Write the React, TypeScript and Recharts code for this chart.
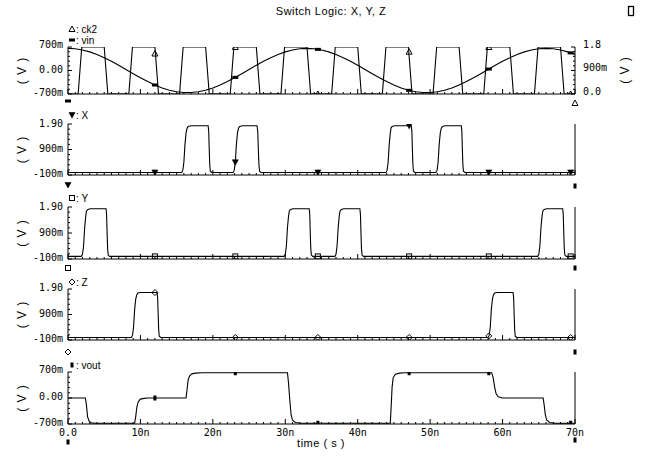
import React from 'react';
import { ComposedChart, Line, Scatter, XAxis, YAxis, ReferenceLine } from 'recharts';

const W = 646;
const H = 456;
const PLOT_LEFT = 68;
const PLOT_RIGHT = 575;
const NUM_FONT = '"DejaVu Sans Mono", monospace';
const TXT_FONT = '"Liberation Sans", Arial, sans-serif';

// ---------- data (time in ns, values in V) ----------
const timeTicks = Array.from({ length: 71 }, (_, i) => i);
const timeLabelValues = [0, 10, 20, 30, 40, 50, 60, 70];
const timeLabels = ['0.0', '10n', '20n', '30n', '40n', '50n', '60n', '70n'];

const markerTimes = [12.0, 23.1, 34.5, 47.1, 58.1, 69.4];

const ck2Points = [
  [0, 0], [1.4, 0], [1.9, 1.8], [5.0, 1.8], [5.5, 0],
  [8.4, 0], [8.9, 1.8], [12.0, 1.8], [12.5, 0],
  [15.4, 0], [15.9, 1.8], [19.0, 1.8], [19.5, 0],
  [22.4, 0], [22.9, 1.8], [26.0, 1.8], [26.5, 0],
  [29.4, 0], [29.9, 1.8], [33.0, 1.8], [33.5, 0],
  [36.4, 0], [36.9, 1.8], [40.0, 1.8], [40.5, 0],
  [43.4, 0], [43.9, 1.8], [47.0, 1.8], [47.5, 0],
  [50.4, 0], [50.9, 1.8], [54.0, 1.8], [54.5, 0],
  [57.4, 0], [57.9, 1.8], [61.0, 1.8], [61.5, 0],
  [64.4, 0], [64.9, 1.8], [68.0, 1.8], [68.5, 0], [70, 0],
];

// vin sampled every 1 ns from 0 to 70 ns
const vinValues = [
  0.660, 0.648, 0.613, 0.555, 0.478, 0.383, 0.274, 0.156, 0.031, -0.094,
  -0.216, -0.330, -0.432, -0.519, -0.587, -0.633, -0.657, -0.657, -0.633, -0.587,
  -0.519, -0.432, -0.330, -0.216, -0.094, 0.031, 0.156, 0.274, 0.383, 0.478,
  0.555, 0.613, 0.648, 0.660, 0.648, 0.613, 0.555, 0.478, 0.383, 0.274,
  0.156, 0.031, -0.094, -0.216, -0.330, -0.432, -0.519, -0.587, -0.633, -0.657,
  -0.657, -0.633, -0.587, -0.519, -0.432, -0.330, -0.216, -0.094, 0.031, 0.156,
  0.274, 0.383, 0.478, 0.555, 0.613, 0.648, 0.660, 0.648, 0.613, 0.555, 0.478,
];

const xPoints = [
  [0, 0],
  [15.7, 0], [15.85, 0.08], [16.0, 0.4], [16.15, 1.1], [16.3, 1.55], [16.45, 1.74], [16.6, 1.8], [17.0, 1.83],
  [19.35, 1.83], [19.43, 1.6], [19.5, 0.9], [19.57, 0.3], [19.65, 0.05], [19.85, 0],
  [22.8, 0], [22.95, 0.08], [23.1, 0.4], [23.25, 1.1], [23.4, 1.55], [23.55, 1.74], [23.7, 1.8], [24.1, 1.83],
  [26.1, 1.83], [26.2, 1.6], [26.28, 0.9], [26.36, 0.3], [26.45, 0.05], [26.65, 0],
  [43.9, 0], [44.05, 0.08], [44.2, 0.4], [44.35, 1.1], [44.5, 1.55], [44.6, 1.74], [44.75, 1.8], [45.1, 1.83],
  [47.4, 1.83], [47.48, 1.6], [47.55, 0.9], [47.62, 0.3], [47.7, 0.05], [47.9, 0],
  [50.8, 0], [50.95, 0.08], [51.1, 0.4], [51.25, 1.1], [51.4, 1.55], [51.55, 1.74], [51.7, 1.8], [52.05, 1.83],
  [54.3, 1.83], [54.38, 1.6], [54.45, 0.9], [54.52, 0.3], [54.6, 0.05], [54.8, 0],
  [70, 0],
];

const yPoints = [
  [0, 0],
  [1.85, 0], [2.0, 0.08], [2.15, 0.4], [2.3, 1.1], [2.45, 1.55], [2.55, 1.74], [2.7, 1.8], [3.05, 1.83],
  [5.25, 1.83], [5.33, 1.6], [5.4, 0.9], [5.47, 0.3], [5.55, 0.05], [5.75, 0],
  [29.85, 0], [30.0, 0.08], [30.15, 0.4], [30.3, 1.1], [30.45, 1.55], [30.55, 1.74], [30.7, 1.8], [31.05, 1.83],
  [33.3, 1.83], [33.38, 1.6], [33.45, 0.9], [33.52, 0.3], [33.6, 0.05], [33.8, 0],
  [36.85, 0], [37.0, 0.08], [37.15, 0.4], [37.3, 1.1], [37.45, 1.55], [37.55, 1.74], [37.7, 1.8], [38.05, 1.83],
  [40.3, 1.83], [40.38, 1.6], [40.45, 0.9], [40.52, 0.3], [40.6, 0.05], [40.8, 0],
  [64.85, 0], [65.0, 0.08], [65.15, 0.4], [65.3, 1.1], [65.45, 1.55], [65.55, 1.74], [65.7, 1.8], [66.05, 1.83],
  [68.3, 1.83], [68.38, 1.6], [68.45, 0.9], [68.52, 0.3], [68.6, 0.05], [68.8, 0],
  [70, 0],
];

const zPoints = [
  [0, 0],
  [8.75, 0], [8.9, 0.08], [9.05, 0.4], [9.2, 1.1], [9.35, 1.5], [9.5, 1.68], [9.65, 1.74], [10.0, 1.76],
  [12.3, 1.76], [12.38, 1.55], [12.45, 0.9], [12.52, 0.3], [12.6, 0.05], [12.8, 0],
  [58.0, 0], [58.15, 0.08], [58.3, 0.4], [58.45, 1.1], [58.6, 1.5], [58.75, 1.68], [58.9, 1.74], [59.25, 1.76],
  [61.45, 1.76], [61.53, 1.55], [61.6, 0.9], [61.67, 0.3], [61.75, 0.05], [61.95, 0],
  [70, 0],
];

const voutPoints = [
  [0, 0], [2.4, 0], [2.55, -0.2], [2.7, -0.5], [2.9, -0.62], [3.2, -0.67], [3.8, -0.68],
  [9.2, -0.68], [9.35, -0.5], [9.5, -0.25], [9.7, -0.1], [10.0, -0.03], [10.5, -0.01], [11, 0],
  [16.3, 0], [16.45, 0.25], [16.6, 0.5], [16.8, 0.6], [17.1, 0.65], [17.6, 0.67], [18.5, 0.68],
  [30.3, 0.68], [30.45, 0.4], [30.6, 0], [30.8, -0.45], [31.0, -0.6], [31.4, -0.66], [32.2, -0.68],
  [44.5, -0.68], [44.6, -0.3], [44.75, 0.3], [44.9, 0.55], [45.2, 0.64], [45.8, 0.67], [46.5, 0.68],
  [58.5, 0.68], [58.7, 0.55], [58.9, 0.3], [59.1, 0.12], [59.4, 0.03], [60.0, 0],
  [65.6, 0], [65.75, -0.2], [65.9, -0.45], [66.1, -0.6], [66.5, -0.66], [67.3, -0.68], [70, -0.68],
];

const ck2Marks = [1.55, 1.8, 0, 1.62, 1.8, 0];
const vinMarks = [-0.432, -0.204, 0.63, -0.59, 0.043, 0.525];
const xMarks = [0, 0.4, 0, 1.83, 0, 0];
const yMarks = [0, 0, 0, 0, 0, 0];
const zMarks = [1.76, 0, 0, 0, 0.06, 0];
const voutMarks = [0, 0.68, -0.68, 0.68, 0.68, -0.68];

const ampTicks = [-0.7, 0, 0.7];
const ampLabels = ['-700m', '0.00', '700m'];
const logicTicks = [-0.1, 0.9, 1.9];
const logicLabels = ['-100m', '900m', '1.90'];
const ck2AxisTicks = [0, 0.9, 1.8];
const ck2AxisLabels = ['0.0', '900m', '1.8'];

// ---------- helpers ----------
type Pt = { t: number; v: number };
const toPts = (arr: number[][]): Pt[] => arr.map(([t, v]) => ({ t, v }));
const marksOf = (vals: number[]): Pt[] => vals.map((v, i) => ({ t: markerTimes[i], v }));
const near = (a: number, b: number) => Math.abs(a - b) < 1e-6;
const minorTicks = (lo: number, hi: number, n: number) =>
  Array.from({ length: n + 1 }, (_, i) => lo + ((hi - lo) * i) / n);

function Glyph({ kind, cx, cy }: { kind: string; cx: number; cy: number }) {
  switch (kind) {
    case 'triUp':
      return <polygon points={`${cx},${cy - 3} ${cx - 3},${cy + 2.5} ${cx + 3},${cy + 2.5}`} fill="none" stroke="#000" strokeWidth={1} />;
    case 'triDown':
      return <polygon points={`${cx - 3},${cy - 2.5} ${cx + 3},${cy - 2.5} ${cx},${cy + 3}`} fill="#000" stroke="#000" strokeWidth={0.6} />;
    case 'sqFill':
      return <rect x={cx - 3} y={cy - 1.5} width={6} height={3} fill="#000" />;
    case 'sqOpen':
      return <rect x={cx - 2.5} y={cy - 2.5} width={5} height={5} fill="none" stroke="#000" strokeWidth={1} />;
    case 'diamond':
      return <polygon points={`${cx},${cy - 3} ${cx + 3},${cy} ${cx},${cy + 3} ${cx - 3},${cy}`} fill="none" stroke="#000" strokeWidth={1} />;
    case 'bar':
      return <rect x={cx - 1.5} y={cy - 2.5} width={3} height={5} fill="#000" />;
    default:
      return null;
  }
}

function makeYTick(axisX: number, side: 'L' | 'R', majors: number[], labels: string[], dys: number[]) {
  return (props: any) => {
    const { y, payload } = props;
    const v = payload.value;
    const idx = majors.findIndex((m) => near(m, v));
    const len = idx >= 0 ? 4 : 2;
    const dir = side === 'L' ? 1 : -1;
    return (
      <g>
        <line x1={axisX} x2={axisX + dir * len} y1={y} y2={y} stroke="#000" strokeWidth={1} />
        {idx >= 0 ? (
          <text
            x={side === 'L' ? axisX - 5 : axisX + 8}
            y={y + dys[idx]}
            dy="0.35em"
            textAnchor={side === 'L' ? 'end' : 'start'}
            fontFamily={NUM_FONT}
            fontSize={10}
            fill="#000"
          >
            {labels[idx]}
          </text>
        ) : null}
      </g>
    );
  };
}

function makeXTick(bottom: number, showLabels: boolean) {
  return (props: any) => {
    const { x, payload } = props;
    const v = payload.value;
    const li = timeLabelValues.findIndex((m) => near(m, v));
    const len = li >= 0 ? 5 : 2;
    return (
      <g>
        <line x1={x} x2={x} y1={bottom} y2={bottom - len} stroke="#000" strokeWidth={1} />
        {showLabels && li >= 0 ? (
          <text x={x} y={bottom + 8} dy="0.35em" textAnchor="middle" fontFamily={NUM_FONT} fontSize={10} fill="#000">
            {timeLabels[li]}
          </text>
        ) : null}
      </g>
    );
  };
}

type AxisCfg = { domain: [number, number]; majors: number[]; labels: string[]; dys: number[] };
type SeriesCfg = { key: string; data: Pt[]; marks: Pt[]; glyph: string; axis: 'L' | 'R' };
type PanelCfg = { top: number; bottom: number; left: AxisCfg; right?: AxisCfg; series: SeriesCfg[]; xLabels: boolean };

const panels: PanelCfg[] = [
  {
    top: 47, bottom: 94,
    left: { domain: [-0.7, 0.7], majors: ampTicks, labels: ampLabels, dys: [-2, -1, -3] },
    right: { domain: [0, 1.8], majors: ck2AxisTicks, labels: ck2AxisLabels, dys: [-3, -3, -3] },
    series: [
      { key: 'ck2', data: toPts(ck2Points), marks: marksOf(ck2Marks), glyph: 'triUp', axis: 'R' },
      { key: 'vin', data: vinValues.map((v, i) => ({ t: i, v })), marks: marksOf(vinMarks), glyph: 'sqFill', axis: 'L' },
    ],
    xLabels: false,
  },
  {
    top: 124, bottom: 175,
    left: { domain: [-0.1, 1.9], majors: logicTicks, labels: logicLabels, dys: [-2, -1, -1] },
    series: [{ key: 'X', data: toPts(xPoints), marks: marksOf(xMarks), glyph: 'triDown', axis: 'L' }],
    xLabels: false,
  },
  {
    top: 207, bottom: 259,
    left: { domain: [-0.1, 1.9], majors: logicTicks, labels: logicLabels, dys: [-2, -1, -1] },
    series: [{ key: 'Y', data: toPts(yPoints), marks: marksOf(yMarks), glyph: 'sqOpen', axis: 'L' }],
    xLabels: false,
  },
  {
    top: 289, bottom: 340,
    left: { domain: [-0.1, 1.9], majors: logicTicks, labels: logicLabels, dys: [-2, -1, -2] },
    series: [{ key: 'Z', data: toPts(zPoints), marks: marksOf(zMarks), glyph: 'diamond', axis: 'L' }],
    xLabels: false,
  },
  {
    top: 372, bottom: 424,
    left: { domain: [-0.7, 0.7], majors: ampTicks, labels: ampLabels, dys: [-2, -2, -3] },
    series: [{ key: 'vout', data: toPts(voutPoints), marks: marksOf(voutMarks), glyph: 'bar', axis: 'L' }],
    xLabels: true,
  },
];

function Panel({ cfg }: { cfg: PanelCfg }) {
  const xAxisH = 1;
  const rightW = 50;
  const marginRight = cfg.right ? W - PLOT_RIGHT - rightW : W - PLOT_RIGHT;
  const [l0, l1] = cfg.left.domain;
  return (
    <div style={{ position: 'absolute', left: 0, top: 0 }}>
      <ComposedChart
        width={W}
        height={H}
        margin={{ top: cfg.top, right: marginRight, bottom: H - cfg.bottom - xAxisH, left: 0 }}
      >
        <XAxis
          dataKey="t"
          type="number"
          domain={[0, 70]}
          ticks={timeTicks}
          interval={0}
          height={xAxisH}
          tickLine={false}
          axisLine={{ stroke: '#000', strokeWidth: 1 }}
          tick={makeXTick(cfg.bottom, cfg.xLabels)}
          allowDataOverflow
        />
        <YAxis
          yAxisId="L"
          orientation="left"
          width={PLOT_LEFT}
          type="number"
          domain={cfg.left.domain}
          ticks={minorTicks(l0, l1, 10)}
          interval={0}
          tickLine={false}
          axisLine={{ stroke: '#000', strokeWidth: 1 }}
          tick={makeYTick(PLOT_LEFT, 'L', cfg.left.majors, cfg.left.labels, cfg.left.dys)}
          allowDataOverflow
        />
        {cfg.right ? (
          <YAxis
            yAxisId="R"
            orientation="right"
            width={rightW}
            type="number"
            domain={cfg.right.domain}
            ticks={minorTicks(cfg.right.domain[0], cfg.right.domain[1], 10)}
            interval={0}
            tickLine={false}
            axisLine={{ stroke: '#000', strokeWidth: 1 }}
            tick={makeYTick(PLOT_RIGHT, 'R', cfg.right.majors, cfg.right.labels, cfg.right.dys)}
            allowDataOverflow
          />
        ) : null}
        {!cfg.right ? <ReferenceLine yAxisId="L" x={70} stroke="#000" strokeWidth={1} /> : null}
        {cfg.series.map((s) => (
          <Line
            key={s.key + '-line'}
            yAxisId={s.axis}
            data={s.data}
            dataKey="v"
            type="linear"
            stroke="#000"
            strokeWidth={1.1}
            dot={false}
            activeDot={false}
            isAnimationActive={false}
          />
        ))}
        {cfg.series.map((s) => (
          <Scatter
            key={s.key + '-marks'}
            yAxisId={s.axis}
            data={s.marks}
            dataKey="v"
            isAnimationActive={false}
            shape={(p: any) => <Glyph kind={s.glyph} cx={p.cx} cy={p.cy} />}
          />
        ))}
      </ComposedChart>
    </div>
  );
}

const legendRows: { glyph: string; name: string; y: number }[] = [
  { glyph: 'triUp', name: 'ck2', y: 29 },
  { glyph: 'sqFill', name: 'vin', y: 40 },
  { glyph: 'triDown', name: 'X', y: 115 },
  { glyph: 'sqOpen', name: 'Y', y: 198 },
  { glyph: 'diamond', name: 'Z', y: 282 },
  { glyph: 'bar', name: 'vout', y: 365 },
];

const cornerGlyphs: { glyph: string; x: number; y: number }[] = [
  { glyph: 'sqFill', x: PLOT_LEFT, y: 101 },
  { glyph: 'triUp', x: PLOT_RIGHT, y: 103 },
  { glyph: 'triDown', x: PLOT_LEFT, y: 185 },
  { glyph: 'bar', x: PLOT_RIGHT, y: 186 },
  { glyph: 'sqOpen', x: PLOT_LEFT, y: 268 },
  { glyph: 'bar', x: PLOT_RIGHT, y: 268 },
  { glyph: 'diamond', x: PLOT_LEFT, y: 352 },
  { glyph: 'bar', x: PLOT_RIGHT, y: 352 },
  { glyph: 'bar', x: PLOT_LEFT, y: 442 },
  { glyph: 'bar', x: PLOT_RIGHT, y: 440 },
];

function Overlay() {
  return (
    <svg width={W} height={H} style={{ position: 'absolute', left: 0, top: 0, pointerEvents: 'none' }}>
      <text x={331} y={11} dy="0.35em" textAnchor="middle" fontFamily={TXT_FONT} fontSize={11} letterSpacing={0.5} fill="#000">
        Switch Logic: X, Y, Z
      </text>
      <rect x={628.5} y={6.5} width={5} height={9} fill="none" stroke="#000" strokeWidth={1.3} />
      {legendRows.map((r) => (
        <g key={r.name}>
          <Glyph kind={r.glyph} cx={72} cy={r.y} />
          <text x={76} y={r.y} dy="0.35em" fontFamily={TXT_FONT} fontSize={10} fill="#000">
            {': ' + r.name}
          </text>
        </g>
      ))}
      {cornerGlyphs.map((g, i) => (
        <Glyph key={i} kind={g.glyph} cx={g.x} cy={g.y} />
      ))}
      {panels.map((p, i) => (
        <text
          key={'v' + i}
          x={22}
          y={(p.top + p.bottom) / 2}
          dy="0.35em"
          textAnchor="middle"
          transform={`rotate(-90 22 ${(p.top + p.bottom) / 2})`}
          fontFamily={TXT_FONT}
          fontSize={12}
          letterSpacing={1}
          fill="#000"
        >
          ( V )
        </text>
      ))}
      <text x={625} y={70} dy="0.35em" textAnchor="middle" transform="rotate(-90 625 70)" fontFamily={TXT_FONT} fontSize={12} letterSpacing={1} fill="#000">
        ( V )
      </text>
      <text x={321} y={443} dy="0.35em" textAnchor="middle" fontFamily={TXT_FONT} fontSize={11} letterSpacing={0.5} fill="#000">
        time ( s )
      </text>
    </svg>
  );
}

export default function App() {
  return (
    <div style={{ position: 'absolute', left: 0, top: 0, width: W, height: H, background: '#fff', overflow: 'hidden' }}>
      {panels.map((p, i) => (
        <Panel key={i} cfg={p} />
      ))}
      <Overlay />
    </div>
  );
}
